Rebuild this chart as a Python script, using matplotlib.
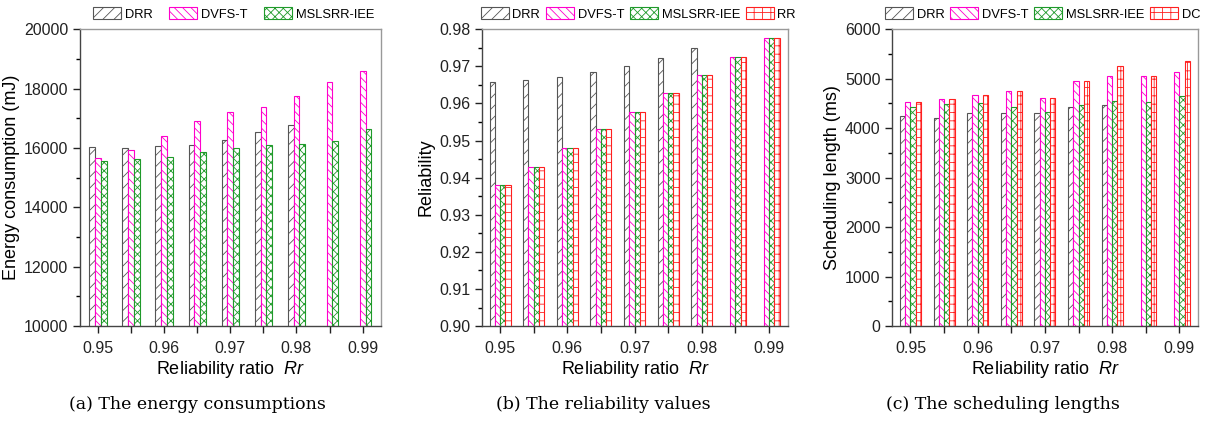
import numpy as np
import matplotlib
matplotlib.use('Agg')
import matplotlib.pyplot as plt
from matplotlib.ticker import MultipleLocator, FormatStrFormatter

plt.rcParams['font.family'] = ['Liberation Sans', 'DejaVu Sans']
plt.rcParams['mathtext.fontset'] = 'custom'
plt.rcParams['mathtext.it'] = 'Liberation Sans:italic'
plt.rcParams['mathtext.rm'] = 'Liberation Sans'
plt.rcParams['hatch.linewidth'] = 0.6

# Data
rr = [0.95, 0.955, 0.96, 0.965, 0.97, 0.975, 0.98, 0.985, 0.99]
xtick_labels = ['0.95', '', '0.96', '', '0.97', '', '0.98', '', '0.99']

# (a) energy consumption (mJ)
energy_drr = [16030, 16010, 16080, 16110, 16260, 16540, 16760, np.nan, np.nan]
energy_dvfs = [15650, 15940, 16415, 16910, 17225, 17380, 17750, 18210, 18605]
energy_mslsrr = [15550, 15640, 15685, 15865, 16010, 16100, 16145, 16235, 16640]

# (b) reliability
rel_drr = [0.9658, 0.9664, 0.9671, 0.9686, 0.9702, 0.9723, 0.9750, np.nan, np.nan]
rel_dvfs = [0.9380, 0.9430, 0.9480, 0.9530, 0.9578, 0.9628, 0.9677, 0.9726, 0.9776]
rel_mslsrr = [0.9380, 0.9430, 0.9480, 0.9530, 0.9578, 0.9628, 0.9677, 0.9726, 0.9776]
rel_rr = [0.9380, 0.9430, 0.9480, 0.9530, 0.9578, 0.9628, 0.9677, 0.9726, 0.9776]

# (c) scheduling length (ms)
sl_drr = [4247, 4213, 4313, 4313, 4313, 4420, 4460, np.nan, np.nan]
sl_dvfs = [4533, 4580, 4680, 4753, 4600, 4953, 5047, 5060, 5127]
sl_mslsrr = [4420, 4487, 4500, 4420, 4320, 4467, 4547, 4533, 4640]
sl_dc = [4533, 4580, 4680, 4753, 4600, 4953, 5247, 5060, 5360]

# styles
styles = {
    'DRR': dict(edgecolor='#555555', hatch='///'),
    'DVFS-T': dict(edgecolor='#ff00cc', hatch='\\\\\\\\'),
    'MSLSRR-IEE': dict(edgecolor='#1f9a2a', hatch='xxxx'),
    'RR': dict(edgecolor='#ff2020', hatch='++'),
    'DC': dict(edgecolor='#ff2020', hatch='++'),
}

fig = plt.figure(figsize=(12.14, 4.23), dpi=100)
axes = [fig.add_axes([0.066, 0.229, 0.248, 0.702]),
        fig.add_axes([0.397, 0.229, 0.252, 0.702]),
        fig.add_axes([0.735, 0.229, 0.252, 0.702])]

panels = [
    (axes[0], [('DRR', energy_drr), ('DVFS-T', energy_dvfs), ('MSLSRR-IEE', energy_mslsrr)],
     0.00088, (10000, 20000), 2000, 1000, 'Energy consumption (mJ)', '%d', 0.0765, 1.3),
    (axes[1], [('DRR', rel_drr), ('DVFS-T', rel_dvfs), ('MSLSRR-IEE', rel_mslsrr), ('RR', rel_rr)],
     0.00078, (0.90, 0.98), 0.01, 0.005, 'Reliability', '%.2f', 0.396, 0.45),
    (axes[2], [('DRR', sl_drr), ('DVFS-T', sl_dvfs), ('MSLSRR-IEE', sl_mslsrr), ('DC', sl_dc)],
     0.00078, (0, 6000), 1000, 500, 'Scheduling length (ms)', '%d', 0.729, 0.45),
]

x = np.array(rr)
for ax, series, w, ylim, major, minor, ylabel, fmt, legx, colsp in panels:
    n = len(series)
    handles = []
    for i, (name, vals) in enumerate(series):
        off = (i - (n - 1) / 2) * w
        b = ax.bar(x + off, vals, width=w, bottom=0, facecolor='white',
                   linewidth=0.8, label=name, **styles[name])
        handles.append(b)
    ax.set_xlim(0.9473, 0.9928)
    ax.set_ylim(*ylim)
    ax.set_xticks(rr)
    ax.set_xticklabels(xtick_labels)
    ax.yaxis.set_major_locator(MultipleLocator(major))
    ax.yaxis.set_minor_locator(MultipleLocator(minor))
    ax.yaxis.set_major_formatter(FormatStrFormatter(fmt))
    ax.tick_params(axis='both', which='major', direction='out', length=5, width=1,
                   labelsize=11.5, colors='#222222')
    ax.tick_params(axis='y', which='minor', direction='out', length=3, width=1)
    ax.tick_params(axis='x', pad=6)
    for s in ax.spines.values():
        s.set_color('#444444')
        s.set_linewidth(1.0)
    ax.spines['top'].set_color('#999999')
    ax.spines['right'].set_color('#999999')
    ax.set_ylabel(ylabel, fontsize=13, labelpad=3)
    ax.set_xlabel('Reliability ratio  $Rr$', fontsize=13, labelpad=2)
    fig.legend(handles=handles, loc='center left', bbox_to_anchor=(legx, 0.967),
               ncol=n, frameon=False, fontsize=9.3, handlelength=2.15,
               handleheight=1.05, handletextpad=0.3, columnspacing=colsp,
               borderaxespad=0, borderpad=0)

captions = ['(a) The energy consumptions', '(b) The reliability values',
            '(c) The scheduling lengths']
centers = [0.163, 0.497, 0.826]
for c, t in zip(centers, captions):
    fig.text(c, 0.043, t, ha='center', va='center', fontsize=12.5,
             family='DejaVu Serif')

fig.savefig('out.png', dpi=100)
